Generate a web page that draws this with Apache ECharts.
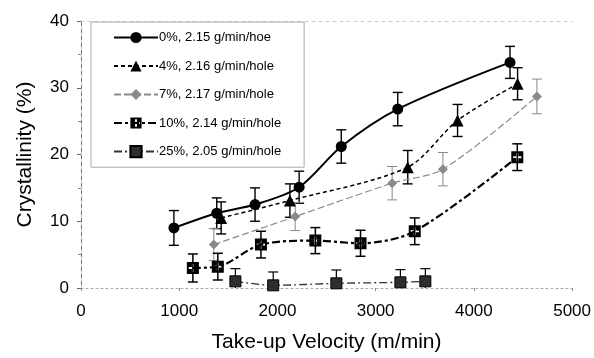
<!DOCTYPE html>
<html>
<head>
<meta charset="utf-8">
<script src="https://cdn.jsdelivr.net/npm/echarts@6/dist/echarts.min.js"></script>
<style>
  html, body { margin: 0; padding: 0; background: #fff; }
  #main { width: 594px; height: 358px; }
</style>
</head>
<body>
<div id="main"></div>
<script>
(function () {

    // 数据
    const vel0  = [946, 1382, 1772, 2221, 2650, 3225, 4368];
    const cry0  = [9.0, 11.2, 12.5, 15.1, 21.2, 26.8, 33.8];
    const err0  = [2.6, 2.3, 2.5, 2.4, 2.5, 2.5, 2.4];

    const vel4  = [1427, 2127, 3327, 3834, 4445];
    const cry4  = [10.5, 13.1, 18.1, 25.1, 30.6];
    const err4  = [2.4, 2.5, 2.5, 2.4, 2.4];

    const vel7  = [1352, 2181, 3168, 3685, 4642];
    const cry7  = [6.5, 10.7, 15.7, 17.8, 28.7];
    const err7  = [2.4, 2.1, 2.5, 2.5, 2.6];

    const vel10 = [1139, 1393, 1832, 2386, 2846, 3398, 4442];
    const cry10 = [3.0, 3.2, 6.5, 7.1, 6.7, 8.5, 19.6];
    const err10 = [2.1, 2.0, 2.0, 1.95, 1.95, 2.0, 2.0];

    const vel25 = [1572, 1957, 2600, 3252, 3506];
    const cry25 = [1.0, 0.4, 0.7, 0.85, 1.0];
    const err25 = [1.9, 2.0, 2.0, 1.9, 1.9];

    const names = [
        '0%, 2.15 g/min/hoe',
        '4%, 2.16 g/min/hole',
        '7%, 2.17 g/min/hole',
        '10%, 2.14 g/min/hole',
        '25%, 2.05 g/min/hole'
    ];

    const FONT = 'Liberation Sans, Arial, sans-serif';

    // 方块 + 白色十字 (反向绕行挖空)
    const crossSquare = 'path://M0 0H10V10H0Z M4.2 1.6V4.2H1.6V5.8H4.2V8.4H5.8V5.8H8.4V4.2H5.8V1.6Z';

    const pts = function (xs, ys) {
        return xs.map(function (x, i) { return [x, ys[i]]; });
    };
    const bars = function (xs, ys, es) {
        return xs.map(function (x, i) { return [x, ys[i] - es[i], ys[i] + es[i]]; });
    };

    // 误差棒
    const errRender = function (color, width) {
        return function (params, api) {
            const x = api.value(0), lo = api.value(1), hi = api.value(2);
            const top = api.coord([x, hi]);
            const bot = api.coord([x, Math.max(lo, 0)]);
            const hw = 5;
            const st = { stroke: color, lineWidth: width };
            const kids = [
                { type: 'line', shape: { x1: top[0], y1: top[1], x2: bot[0], y2: bot[1] }, style: st },
                { type: 'line', shape: { x1: top[0] - hw, y1: top[1], x2: top[0] + hw, y2: top[1] }, style: st }
            ];
            if (lo >= 0) {
                kids.push({ type: 'line', shape: { x1: bot[0] - hw, y1: bot[1], x2: bot[0] + hw, y2: bot[1] }, style: st });
            }
            return { type: 'group', children: kids };
        };
    };

    const errSeries = function (id, data, color, width) {
        return {
            type: 'custom', name: 'err' + id, z: 2, silent: true,
            renderItem: errRender(color, width),
            encode: { x: 0, y: [1, 2] },
            data: data
        };
    };

    const lineSeries = function (name, data, opt) {
        return Object.assign({
            type: 'line', name: name, z: 3, smooth: 0.3,
            data: data, animation: false
        }, opt);
    };

    const option = {
        animation: false,
        backgroundColor: '#fff',
        grid: { left: 81, right: 20, top: 21, bottom: 68 },
        legend: {
            data: names,
            orient: 'vertical',
            left: 91, top: 22,
            padding: [9, 23, 9, 22],
            itemWidth: 44, itemHeight: 14, itemGap: 15.5,
            borderColor: '#aaa', borderWidth: 1,
            textStyle: { fontFamily: FONT, fontSize: 13, color: '#000', padding: [0, 0, 0, -4] }
        },
        xAxis: [{
            type: 'value', min: 0, max: 5000, interval: 1000,
            name: 'Take-up Velocity (m/min)',
            nameLocation: 'middle', nameGap: 44,
            nameTextStyle: { fontFamily: FONT, fontSize: 21, color: '#000' },
            axisLine: { show: true, onZero: false, lineStyle: { color: '#aaa', type: [2, 3], width: 1 } },
            axisTick: { show: true, length: 3, lineStyle: { color: '#888' } },
            axisLabel: {
                fontFamily: FONT, fontSize: 17, color: '#000', margin: 15,
                formatter: function (v) { return String(v); }
            },
            splitLine: { show: false }
        }, {
            type: 'value', min: 0, max: 5000, position: 'top',
            axisLine: { show: true, onZero: false, lineStyle: { color: '#ccc', type: [3, 4], width: 1 } },
            axisTick: { show: false }, axisLabel: { show: false }, splitLine: { show: false }
        }],
        yAxis: [{
            type: 'value', min: 0, max: 40, interval: 10,
            name: 'Crystallinity (%)',
            nameLocation: 'middle', nameGap: 45,
            nameTextStyle: { fontFamily: FONT, fontSize: 21, color: '#000' },
            axisLine: { show: true, lineStyle: { color: '#666', width: 1 } },
            axisTick: { show: true, length: 4, lineStyle: { color: '#666' } },
            minorTick: { show: true, splitNumber: 2, length: 3, lineStyle: { color: '#888' } },
            axisLabel: { fontFamily: FONT, fontSize: 17, color: '#000', margin: 12 },
            splitLine: { show: false }
        }, {
            type: 'value', min: 0, max: 40, position: 'right',
            axisLine: { show: true, lineStyle: { color: '#ccc', type: [3, 4], width: 1 } },
            axisTick: { show: false }, axisLabel: { show: false }, splitLine: { show: false }
        }],
        series: [
            errSeries(0, bars(vel0, cry0, err0), '#000', 1.4),
            errSeries(4, bars(vel4, cry4, err4), '#000', 1.4),
            errSeries(7, bars(vel7, cry7, err7), '#888', 1),
            errSeries(10, bars(vel10, cry10, err10), '#000', 1.5),
            errSeries(25, bars(vel25, cry25, err25), '#000', 1.2),

            lineSeries(names[0], pts(vel0, cry0), {
                symbol: 'circle', symbolSize: 11,
                itemStyle: { color: '#000' },
                lineStyle: { color: '#000', width: 2 }
            }),
            lineSeries(names[1], pts(vel4, cry4), {
                symbol: 'triangle', symbolSize: 12,
                itemStyle: { color: '#000' },
                lineStyle: { color: '#000', width: 1.5, type: [4, 3] }
            }),
            lineSeries(names[2], pts(vel7, cry7), {
                symbol: 'diamond', symbolSize: 10,
                itemStyle: { color: '#8a8a8a' },
                lineStyle: { color: '#8a8a8a', width: 1.2, type: [7, 3] }
            }),
            lineSeries(names[3], pts(vel10, cry10), {
                symbol: crossSquare, symbolSize: 12,
                itemStyle: { color: '#000' },
                lineStyle: { color: '#000', width: 2.2, type: [8, 3, 3, 3] }
            }),
            lineSeries(names[4], pts(vel25, cry25), {
                symbol: 'rect', symbolSize: 11,
                itemStyle: { color: '#2e2e2e', borderColor: '#000', borderWidth: 1 },
                lineStyle: { color: '#333', width: 1.3, type: [8, 3, 2, 3] }
            })
        ]
    };

    echarts.init(document.getElementById('main'), null, { renderer: 'canvas' }).setOption(option);

})();
</script>
</body>
</html>
